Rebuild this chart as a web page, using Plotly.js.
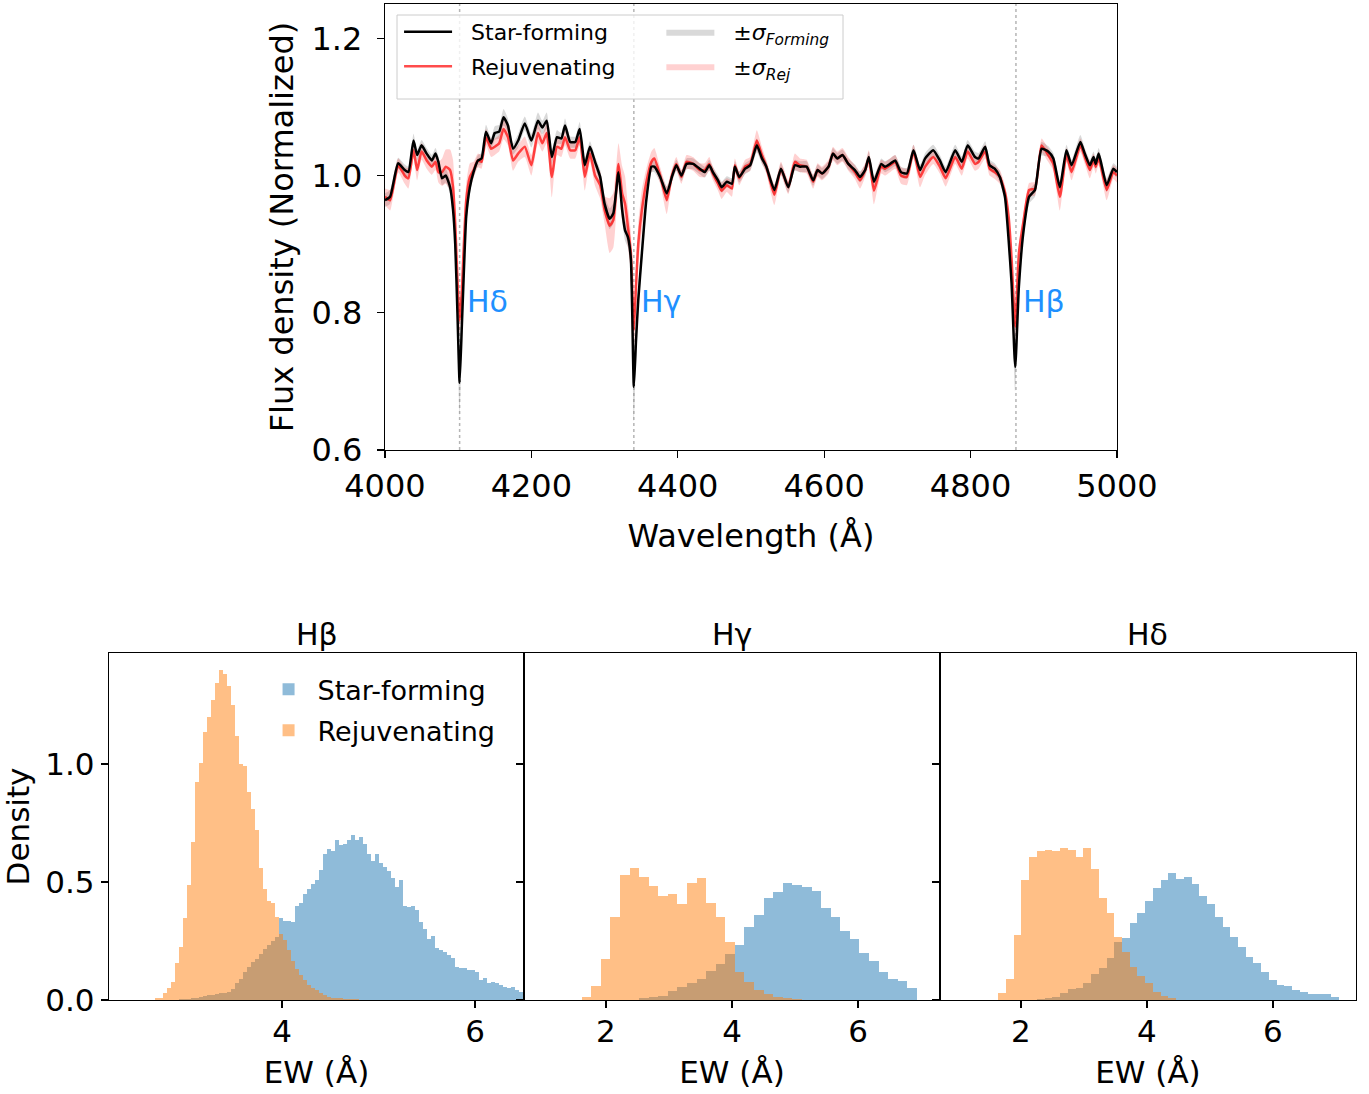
<!DOCTYPE html>
<html>
<head>
<meta charset="utf-8">
<script src="https://cdn.plot.ly/plotly-3.0.1.min.js"></script>
<style>html,body{margin:0;padding:0;background:#fff;}#chart{width:1369px;height:1094px;}</style>
</head>
<body>
<div id="chart"></div>
<script>
// ---------- Spectrum data ----------
const waves = [
4000,4007,4018,4027,4032,4039,4044,4050,4057,4064,
4069,4073,4078,4083,4089,4093,4096,4099,4102,4105,
4107,4111,4116,4121,4127,4132,4138,4145,4150,4156,
4162,4168,4175,4182,4191,4200,4209,4215,4221,4228,
4235,4241,4246,4253,4260,4266,4273,4280,4287,4294,
4300,4307,4312,4319,4324,4328,4332,4336,4340,4343,
4346,4351,4357,4364,4368,4376,4385,4392,4398,4405,
4412,4421,4430,4437,4443,4448,4455,4460,4467,4474,
4478,4484,4492,4499,4508,4515,4521,4532,4541,4551,
4560,4567,4576,4585,4591,4597,4606,4612,4618,4625,
4633,4642,4649,4656,4661,4668,4678,4683,4690,4697,
4705,4713,4722,4731,4738,4749,4758,4766,4779,4788,
4796,4806,4811,4820,4826,4833,4840,4847,4852,4856,
4861,4866,4872,4880,4888,4897,4906,4913,4922,4931,
4938,4950,4956,4963,4968,4971,4975,4986,4995,5000];

const fluxStarForming = [
0.964,0.969,1.018,1.008,1.005,1.051,1.030,1.044,1.032,1.022,
1.032,1.020,0.996,1.000,0.983,0.950,0.900,0.800,0.698,0.780,
0.837,0.940,0.983,1.005,1.022,1.025,1.064,1.047,1.062,1.064,
1.085,1.073,1.039,1.051,1.076,1.051,1.080,1.070,1.080,1.027,
1.056,1.054,1.073,1.049,1.049,1.068,1.015,1.042,1.020,0.998,
0.959,0.937,0.945,1.005,0.950,0.920,0.910,0.877,0.692,0.760,
0.818,0.887,0.964,1.013,1.013,0.998,0.974,0.998,1.015,1.000,
1.017,1.017,1.010,1.005,1.015,1.005,0.993,0.983,0.991,0.988,
1.013,0.998,1.010,1.015,1.044,1.025,1.013,0.979,1.010,0.983,
1.015,1.013,1.013,0.993,1.008,1.003,1.013,1.032,1.025,1.030,
1.017,1.008,0.998,1.008,1.027,0.991,1.017,1.013,1.017,1.022,
1.005,1.003,1.037,1.008,1.025,1.037,1.022,1.005,1.037,1.020,
1.044,1.027,1.025,1.042,1.015,1.010,0.998,0.969,0.906,0.843,
0.721,0.838,0.916,0.969,0.979,1.039,1.035,1.025,0.983,1.037,
1.015,1.049,1.032,1.015,1.027,1.017,1.032,0.986,1.010,1.005];

const fluxRejuvenating = [
0.969,0.964,1.015,1.000,0.996,1.037,1.008,1.035,1.022,1.013,
1.020,1.005,1.005,1.013,1.008,0.983,0.930,0.850,0.789,0.830,
0.881,0.964,0.998,1.008,1.022,1.020,1.056,1.039,1.042,1.047,
1.068,1.056,1.022,1.032,1.042,1.015,1.062,1.047,1.062,0.998,
1.042,1.039,1.056,1.037,1.037,1.056,0.998,1.032,1.000,0.986,
0.950,0.927,0.935,1.017,0.974,0.959,0.925,0.887,0.775,0.840,
0.900,0.950,0.990,1.020,1.025,1.000,0.964,1.000,1.017,0.998,
1.020,1.017,1.008,1.008,1.017,1.003,0.988,0.978,0.986,0.981,
1.015,0.996,1.013,1.017,1.051,1.030,1.013,0.972,1.010,0.983,
1.020,1.015,1.013,0.991,1.008,1.003,1.013,1.032,1.025,1.030,
1.017,1.005,0.993,1.008,1.025,0.978,1.013,1.010,1.015,1.020,
1.000,0.998,1.035,0.998,1.013,1.027,1.013,0.996,1.027,1.010,
1.035,1.017,1.020,1.035,1.010,1.005,0.998,0.976,0.940,0.880,
0.780,0.887,0.931,0.979,0.981,1.044,1.030,1.017,0.969,1.030,
1.005,1.044,1.027,1.008,1.022,1.013,1.025,0.979,1.005,1.000];

const sigmaStarForming = [
.010,.010,.008,.008,.008,.010,.008,.008,.008,.008,
.008,.008,.010,.010,.010,.012,.015,.020,.050,.030,
.020,.012,.010,.008,.008,.008,.010,.008,.010,.010,
.012,.010,.008,.010,.010,.010,.012,.010,.012,.010,
.010,.008,.010,.008,.008,.010,.010,.008,.008,.010,
.012,.015,.015,.012,.015,.015,.015,.020,.050,.030,
.020,.015,.010,.008,.008,.008,.010,.008,.008,.008,
.008,.008,.008,.008,.008,.008,.008,.008,.008,.008,
.008,.008,.008,.008,.010,.008,.008,.008,.008,.008,
.008,.008,.008,.008,.008,.008,.008,.008,.008,.008,
.008,.008,.008,.008,.008,.008,.008,.008,.008,.008,
.008,.008,.008,.008,.008,.008,.008,.008,.008,.008,
.008,.008,.008,.008,.008,.008,.008,.010,.012,.015,
.035,.015,.012,.010,.010,.010,.008,.008,.010,.008,
.008,.010,.008,.008,.008,.008,.008,.010,.008,.008];

const sigmaRejuvenating = [
.012,.015,.010,.012,.015,.012,.015,.012,.012,.012,
.012,.015,.020,.025,.030,.040,.030,.020,.020,.020,
.020,.025,.020,.012,.010,.010,.012,.012,.012,.012,
.015,.012,.015,.012,.015,.015,.015,.012,.015,.030,
.012,.012,.012,.012,.012,.012,.020,.012,.015,.020,
.020,.040,.040,.030,.040,.040,.030,.030,.030,.030,
.030,.030,.020,.015,.015,.012,.020,.010,.010,.010,
.010,.010,.010,.010,.010,.010,.010,.012,.010,.012,
.010,.010,.010,.010,.015,.012,.010,.015,.010,.010,
.012,.010,.010,.010,.010,.010,.010,.010,.010,.010,
.010,.010,.012,.010,.012,.020,.010,.010,.010,.010,
.012,.012,.010,.015,.012,.010,.010,.012,.010,.010,
.010,.010,.010,.010,.010,.010,.010,.010,.012,.015,
.020,.015,.012,.010,.010,.010,.010,.010,.020,.010,
.012,.010,.010,.012,.010,.010,.010,.015,.010,.010];

const balmerWaves = [4102, 4340, 4862];
const balmerNames = ['Hδ', 'Hγ', 'Hβ'];
const balmerLabelFlux = 0.8;

// ---------- Equivalent-width histograms (density per bin) ----------
const histTitles = ['Hβ', 'Hγ', 'Hδ'];
const hbBinStart = 2.68, hbBinWidth = 0.0415;
const hbRejuvenating = [
0.007,0.010,0.030,0.050,0.078,0.155,0.226,0.346,0.487,0.671,
0.925,1.003,1.137,1.200,1.271,1.342,1.398,1.380,1.330,1.250,
1.120,1.000,0.990,0.880,0.810,0.720,0.560,0.470,0.420,0.410,
0.350,0.280,0.255,0.210,0.165,0.130,0.106,0.085,0.064,0.050,
0.042,0.028,0.021,0.014,0.010,0.010,0.007,0.005,0.005,0.004,
0.003];
const hbStarForming = [
0,0,0,0,0,0.002,0.003,0.004,0.006,0.008,
0.010,0.014,0.018,0.021,0.021,0.024,0.028,0.028,0.035,0.045,
0.070,0.090,0.120,0.140,0.160,0.175,0.195,0.215,0.235,0.250,
0.265,0.346,0.335,0.335,0.330,0.400,0.410,0.450,0.470,0.490,
0.510,0.550,0.620,0.640,0.630,0.677,0.656,0.663,0.677,0.699,
0.677,0.692,0.663,0.620,0.590,0.620,0.580,0.565,0.545,0.515,
0.480,0.510,0.400,0.395,0.400,0.380,0.330,0.300,0.258,0.270,
0.220,0.212,0.205,0.190,0.180,0.142,0.135,0.135,0.127,0.127,
0.120,0.085,0.092,0.070,0.078,0.070,0.064,0.057,0.050,0.057,
0.042,0.035,0.030];

const hgBinStart = 1.614, hgBinWidth = 0.152;
const hgRejuvenating = [
0.012,0.059,0.172,0.353,0.528,0.560,0.520,0.483,0.442,0.448,
0.407,0.497,0.515,0.411,0.353,0.244,0.118,0.076,0.044,0.027,
0.014,0.007,0.003];
const hgStarForming = [
0,0,0,0,0,0,0.007,0.014,0.018,0.038,
0.056,0.071,0.088,0.123,0.151,0.195,0.234,0.309,0.362,0.434,
0.456,0.497,0.487,0.479,0.460,0.390,0.353,0.294,0.258,0.198,
0.164,0.117,0.090,0.080,0.049];

const hdBinStart = 1.640, hdBinWidth = 0.1228;
const hdRejuvenating = [
0.028,0.089,0.274,0.507,0.604,0.633,0.636,0.631,0.645,0.637,
0.606,0.645,0.555,0.434,0.369,0.266,0.205,0.140,0.102,0.071,
0.035,0.018,0.007];
const hdStarForming = [
0,0,0,0,0,0.004,0.007,0.014,0.028,0.045,
0.051,0.071,0.109,0.134,0.179,0.244,0.261,0.325,0.370,0.421,
0.475,0.508,0.537,0.511,0.520,0.492,0.442,0.405,0.353,0.308,
0.266,0.226,0.181,0.155,0.120,0.085,0.064,0.059,0.042,0.035,
0.025,0.025,0.025,0.014];

// ---------- Build figure ----------
const FONT = 'DejaVu Sans, Liberation Sans, sans-serif';
const BLUE = 'rgba(31,119,180,0.5)';
const ORANGE = 'rgba(255,127,14,0.5)';
const GAP = '\u00a0\u00a0';

function band(x, y, s) {
  const up = y.map((v, i) => v + s[i]);
  const lo = y.map((v, i) => v - s[i]);
  return { x: x.concat(x.slice().reverse()), y: up.concat(lo.reverse()) };
}
const bandSF = band(waves, fluxStarForming, sigmaStarForming);
const bandRej = band(waves, fluxRejuvenating, sigmaRejuvenating);

const traces = [
  { type: 'scatter', mode: 'lines', x: bandSF.x, y: bandSF.y, fill: 'toself',
    fillcolor: 'rgba(128,128,128,0.3)', line: { width: 0, color: 'rgba(0,0,0,0)', shape: 'spline', smoothing: 0.5 },
    name: GAP + '±<i>σ</i><sub><i>Forming</i></sub>', legend: 'legend2', legendrank: 1, legendgroup: 'sa',
    xaxis: 'x', yaxis: 'y', hoverinfo: 'skip' },
  { type: 'scatter', mode: 'lines', x: bandRej.x, y: bandRej.y, fill: 'toself',
    fillcolor: 'rgba(255,0,0,0.18)', line: { width: 0, color: 'rgba(0,0,0,0)', shape: 'spline', smoothing: 0.5 },
    name: GAP + '±<i>σ</i><sub><i>Rej</i></sub>', legend: 'legend2', legendrank: 2, legendgroup: 'sb',
    xaxis: 'x', yaxis: 'y', hoverinfo: 'skip' },
  { type: 'scatter', mode: 'lines', x: waves, y: fluxRejuvenating,
    line: { color: 'rgba(255,0,0,0.7)', width: 2.5, shape: 'spline', smoothing: 0.5 }, name: GAP + 'Rejuvenating',
    legend: 'legend', legendrank: 2, legendgroup: 'lb', xaxis: 'x', yaxis: 'y' },
  { type: 'scatter', mode: 'lines', x: waves, y: fluxStarForming,
    line: { color: '#000000', width: 2.5, shape: 'spline', smoothing: 0.5 }, name: GAP + 'Star-forming',
    legend: 'legend', legendrank: 1, legendgroup: 'la', xaxis: 'x', yaxis: 'y' }
];

const hists = [
  { start: hbBinStart, w: hbBinWidth, sf: hbStarForming, rej: hbRejuvenating },
  { start: hgBinStart, w: hgBinWidth, sf: hgStarForming, rej: hgRejuvenating },
  { start: hdBinStart, w: hdBinWidth, sf: hdStarForming, rej: hdRejuvenating }
];
hists.forEach((h, k) => {
  const xa = 'x' + (k + 2), ya = 'y' + (k + 2);
  const centers = n => Array.from({ length: n }, (_, i) => h.start + h.w * (i + 0.5));
  traces.push({ type: 'bar', x: centers(h.sf.length), y: h.sf, width: h.w,
    marker: { color: BLUE, line: { width: 0 } }, name: 'Star-forming',
    showlegend: k === 0, legend: 'legend3', legendrank: 1, legendgroup: 'ha', xaxis: xa, yaxis: ya });
  traces.push({ type: 'bar', x: centers(h.rej.length), y: h.rej, width: h.w,
    marker: { color: ORANGE, line: { width: 0 } }, name: 'Rejuvenating',
    showlegend: k === 0, legend: 'legend3', legendrank: 2, legendgroup: 'hb', xaxis: xa, yaxis: ya });
});

const axisBase = {
  showline: true, mirror: true, linecolor: '#000', linewidth: 1.2,
  ticks: 'outside', ticklen: 7, tickwidth: 1.3, tickcolor: '#000',
  showgrid: false, zeroline: false, automargin: false,
  tickfont: { family: FONT, size: 31, color: '#000' }
};

const botDom = [0.0859, 0.4031];
const xDoms = [[0.0796, 0.3828], [0.3828, 0.6866], [0.6866, 0.9905]];
const xRanges = [[2.207, 6.508], [0.70, 7.30], [0.714, 7.32]];
const xTicks = [[4, 6], [2, 4, 6], [2, 4, 6]];

const layout = {
  width: 1369, height: 1094,
  margin: { l: 0, r: 0, t: 0, b: 0 },
  paper_bgcolor: '#fff', plot_bgcolor: '#fff',
  font: { family: FONT, color: '#000' },
  barmode: 'overlay', bargap: 0,
  showlegend: true,
  xaxis: Object.assign({}, axisBase, {
    domain: [0.2812, 0.8159], anchor: 'y', range: [4000, 5000],
    tickvals: [4000, 4200, 4400, 4600, 4800, 5000],
    tickfont: { family: FONT, size: 32, color: '#000' },
    title: { text: 'Wavelength (Å)', font: { family: FONT, size: 32 }, standoff: 21 }
  }),
  yaxis: Object.assign({}, axisBase, {
    domain: [0.5887, 0.9963], anchor: 'x', range: [0.6, 1.25],
    tickvals: [0.6, 0.8, 1.0, 1.2], tickformat: '.1f', ticklabelstandoff: 8,
    tickfont: { family: FONT, size: 32, color: '#000' },
    title: { text: 'Flux density (Normalized)', font: { family: FONT, size: 32 }, standoff: 8 }
  }),
  legend: { x: 0.2915, y: 0.990, xanchor: 'left', yanchor: 'top', bgcolor: 'rgba(0,0,0,0)',
    font: { family: FONT, size: 22 }, itemwidth: 48, traceorder: 'grouped', tracegroupgap: 3 },
  legend2: { x: 0.4831, y: 0.990, xanchor: 'left', yanchor: 'top', bgcolor: 'rgba(0,0,0,0)',
    font: { family: FONT, size: 22 }, itemwidth: 48, traceorder: 'grouped', tracegroupgap: 3 },
  legend3: { x: 0.1896, y: 0.392, xanchor: 'left', yanchor: 'top', bgcolor: 'rgba(0,0,0,0)',
    font: { family: FONT, size: 27 }, itemwidth: 48, traceorder: 'grouped', tracegroupgap: 3 },
  shapes: [], annotations: []
};

for (let k = 0; k < 3; k++) {
  const n = k + 2;
  layout['xaxis' + n] = Object.assign({}, axisBase, {
    domain: xDoms[k], anchor: 'y' + n, range: xRanges[k], tickvals: xTicks[k],
    ticklabelstandoff: -3,
    title: { text: 'EW (Å)', font: { family: FONT, size: 31 }, standoff: 12 }
  });
  layout['yaxis' + n] = Object.assign({}, axisBase, {
    domain: botDom, anchor: 'x' + n, range: [0, 1.47],
    tickvals: [0, 0.5, 1.0], tickformat: '.1f', showticklabels: k === 0
  });
  if (k === 0) layout.yaxis2.title = { text: 'Density', font: { family: FONT, size: 31 }, standoff: 12 };
  else layout['yaxis' + n].matches = 'y2';
  layout.annotations.push({
    xref: 'paper', yref: 'paper', x: (xDoms[k][0] + xDoms[k][1]) / 2, y: botDom[1],
    xanchor: 'center', yanchor: 'bottom', yshift: -1, showarrow: false,
    text: histTitles[k], font: { family: FONT, size: 30, color: '#000' }
  });
}

balmerWaves.forEach((w, i) => {
  layout.shapes.push({ type: 'line', xref: 'x', yref: 'y domain', x0: w, x1: w, y0: 0, y1: 1,
    line: { color: 'rgba(150,150,150,0.7)', width: 1.5, dash: 'dot' }, layer: 'below' });
  layout.annotations.push({ xref: 'x', yref: 'y', x: w, y: balmerLabelFlux,
    xanchor: 'left', yanchor: 'bottom', xshift: 5, yshift: -8, showarrow: false,
    text: balmerNames[i], font: { family: FONT, size: 30, color: '#1e90ff' } });
});

// legend frame of the spectrum panel
layout.shapes.push({ type: 'rect', xref: 'paper', yref: 'paper',
  x0: 397 / 1369, x1: 843 / 1369, y0: (1094 - 99) / 1094, y1: (1094 - 15) / 1094,
  fillcolor: 'rgba(255,255,255,0.8)', line: { color: '#cccccc', width: 1 }, layer: 'above' });

Plotly.newPlot('chart', traces, layout, { staticPlot: true, displayModeBar: false });
</script>
</body>
</html>
